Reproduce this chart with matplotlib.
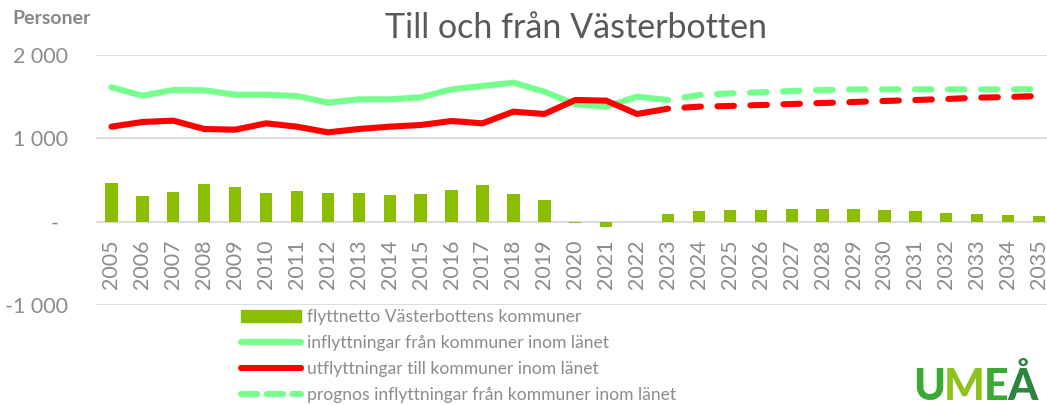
import matplotlib
matplotlib.use("Agg")
import matplotlib.pyplot as plt
import matplotlib.transforms as mtransforms
from matplotlib.patches import Patch
from matplotlib.lines import Line2D
import numpy as np

plt.rcParams['font.family'] = ['Lato', 'DejaVu Sans']

years = [str(y) for y in range(2005, 2036)]
netto = [468, 308, 360, 456, 412, 344, 368, 348, 348, 316, 336, 376, 444, 332, 260,
         -15, -62, 0, 96, 124, 140, 144, 152, 156, 152, 140, 124, 108, 96, 84, 72]
inflytt = [1612, 1512, 1580, 1576, 1524, 1524, 1508, 1428, 1468, 1468, 1492, 1588,
           1628, 1668, 1560, 1408, 1380, 1500, 1460]
utflytt = [1140, 1196, 1212, 1112, 1104, 1180, 1140, 1072, 1112, 1140, 1160, 1208,
           1180, 1320, 1292, 1460, 1452, 1292, 1356]
prognos_years = [str(y) for y in range(2023, 2036)]
prognos_in = [1460, 1520, 1540, 1552, 1568, 1580, 1588, 1588, 1588, 1588, 1588, 1588, 1590]
prognos_ut = [1356, 1380, 1388, 1400, 1412, 1424, 1436, 1448, 1460, 1472, 1488, 1496, 1508]
ytick_vals = [-1000, 0, 1000, 2000]
ytick_labels = ['-1 000', '-', '1 000', '2 000']

W, H = 1047, 405
fig = plt.figure(figsize=(W / 100, H / 100), dpi=100)
ax = fig.add_axes([96 / W, (H - 305) / H, 958.5 / W, 250 / H])
ax.spines['bottom'].set_position(('data', 0))

x = np.arange(len(years))
xp = np.arange(len(years) - len(prognos_years), len(years))
xh = np.arange(len(inflytt))

bar_c = '#8bbe00'
green = '#77ff8e'
red = '#ff0000'
gray = '#8c8c8c'
lw = 4.4

ax.bar(x, netto, width=0.4, color=bar_c, linewidth=0, zorder=2)
ax.plot(xh, inflytt, color=green, lw=lw, solid_capstyle='round', solid_joinstyle='round', zorder=3)
ax.plot(xh, utflytt, color=red, lw=lw, solid_capstyle='round', solid_joinstyle='round', zorder=4)
ax.plot(xp, prognos_in, color=green, lw=lw, linestyle=(2.7, (2.7, 2.7)),
        dash_capstyle='round', zorder=3)
ax.plot(xp, prognos_ut, color=red, lw=lw, linestyle=(2.7, (2.7, 2.7)),
        dash_capstyle='round', zorder=4)

ax.set_xlim(-0.5, len(years) - 0.5)
ax.set_ylim(-1000, 2000)
ax.set_yticks(ytick_vals)
ax.set_yticklabels(ytick_labels)
ax.set_xticks(x)
ax.set_xticklabels(years, rotation=90)
ax.grid(axis='y', color='#dadada', lw=1.3, zorder=0)
ax.set_axisbelow(True)
for s in ['top', 'right', 'left', 'bottom']:
    ax.spines[s].set_visible(False)
ax.tick_params(axis='both', length=0, colors=gray, labelsize=15.4)
ax.tick_params(axis='x', pad=12.5)
ax.tick_params(axis='y', pad=20)
for lab in ax.get_yticklabels():
    if lab.get_text() == '-':
        lab.set_transform(lab.get_transform() + mtransforms.ScaledTranslation(-10 / 100, 0, fig.dpi_scale_trans))

fig.text(576 / W, 1 - 28 / H, 'Till och från Västerbotten', ha='center', va='center',
         fontsize=24.5, color='#595959')
fig.text(12 / W, 1 - 18 / H, 'Personer', ha='left', va='center', fontsize=14,
         fontweight='bold', color='#888888')

handles = [
    Patch(facecolor=bar_c, edgecolor=bar_c),
    Line2D([], [], color=green, lw=lw, solid_capstyle='round'),
    Line2D([], [], color=red, lw=lw, solid_capstyle='round'),
    Line2D([], [], color=green, lw=lw, linestyle=(0, (2.7, 1.5)), dash_capstyle='round'),
]
labels = ['flyttnetto Västerbottens kommuner',
          'inflyttningar från kommuner inom länet',
          'utflyttningar till kommuner inom länet',
          'prognos inflyttningar från kommuner inom länet']
leg = fig.legend(handles, labels, loc='upper left', bbox_to_anchor=(241 / W, 1 - 309 / H),
                 frameon=False, fontsize=12.6, labelcolor=gray, handlelength=3.4,
                 handleheight=0.65, handletextpad=0.35, labelspacing=0.58, borderpad=0,
                 borderaxespad=0)

logo_letters = ['U', 'M', 'E', 'Å']
logo_c = ['#3aaa35', '#8dc21f', '#3aaa35', '#2e8540']
renderer = fig.canvas.get_renderer()
lx = 913
for ch, lc in zip(logo_letters, logo_c):
    t = fig.text(lx / W, 1 - 400 / H, ch, ha='left', va='baseline', fontsize=31,
                 fontweight='black', color=lc)
    bb = t.get_window_extent(renderer=renderer)
    lx += bb.width - 1

fig.savefig('out.png', dpi=100)
